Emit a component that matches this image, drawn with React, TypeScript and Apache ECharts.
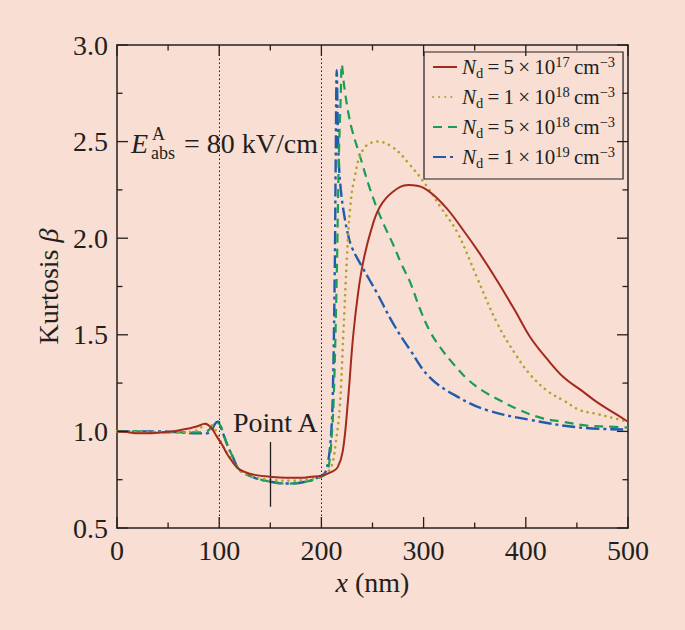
import React, { useEffect, useRef } from 'react';
import * as echarts from 'echarts';

// ---- data ----
const redX = [0, 10, 20, 30, 40, 50, 60, 70, 78, 86, 92, 98, 103, 107, 112, 118, 125, 135, 150, 165, 180, 190, 200, 210, 216, 221, 226, 231, 236, 241, 248, 257, 270, 285, 300, 320, 339, 355, 372, 390, 404, 420, 437, 455, 470, 485, 500];
const redY = [1.0, 0.997, 0.99, 0.99, 0.993, 0.998, 1.005, 1.015, 1.025, 1.04, 1.02, 0.97, 0.93, 0.89, 0.85, 0.81, 0.79, 0.775, 0.765, 0.76, 0.76, 0.765, 0.77, 0.79, 0.815, 0.9, 1.16, 1.49, 1.72, 1.88, 2.03, 2.16, 2.24, 2.275, 2.26, 2.17, 2.04, 1.92, 1.78, 1.62, 1.49, 1.38, 1.28, 1.21, 1.15, 1.1, 1.05];

const oliveX = [0, 20, 40, 60, 75, 82, 88, 93, 98, 103, 110, 120, 130, 150, 170, 190, 200, 205, 210, 214, 218, 221.5, 225, 228, 232, 241, 255, 270, 285, 303, 318, 333, 352, 372, 391, 405, 421, 437, 453, 470, 485, 500];
const oliveY = [1.0, 0.995, 0.995, 0.995, 1.0, 1.02, 1.04, 1.03, 0.99, 0.93, 0.87, 0.8, 0.77, 0.75, 0.745, 0.755, 0.77, 0.785, 0.82, 0.94, 1.13, 1.51, 1.9, 2.15, 2.3, 2.46, 2.5, 2.47, 2.39, 2.27, 2.15, 2.03, 1.8, 1.56, 1.39, 1.29, 1.21, 1.16, 1.11, 1.09, 1.07, 1.05];

const greenX = [0, 20, 40, 60, 80, 88, 92, 96, 100, 104, 108, 114, 120, 135, 150, 166, 185, 200, 205, 208, 210, 212, 215, 217, 219, 220, 222, 226, 230, 238, 246, 254, 262, 270, 278, 287, 296, 306, 317, 329, 343, 358, 375, 394, 415, 436, 460, 480, 500];
const greenY = [1.0, 1.0, 0.995, 0.995, 0.995, 1.0, 1.02, 1.045, 1.04, 0.99, 0.93, 0.86, 0.8, 0.76, 0.74, 0.73, 0.74, 0.765, 0.785, 0.85, 0.97, 1.16, 1.8, 2.4, 2.75, 2.9, 2.8, 2.66, 2.56, 2.42, 2.28, 2.16, 2.06, 1.97, 1.87, 1.77, 1.64, 1.52, 1.43, 1.35, 1.27, 1.21, 1.16, 1.11, 1.07, 1.05, 1.03, 1.025, 1.02];

const blueX = [0, 20, 40, 60, 80, 88, 92, 96, 99, 103, 108, 114, 120, 135, 150, 166, 185, 200, 204, 206.5, 209, 211, 213, 214, 215, 216, 217, 219, 222, 226, 230, 240, 254, 270, 287, 306, 333, 362, 404, 453, 500];
const blueY = [1.0, 1.0, 1.0, 0.995, 0.99, 0.99, 1.0, 1.04, 1.05, 1.0, 0.93, 0.86, 0.8, 0.76, 0.74, 0.73, 0.74, 0.77, 0.79, 0.84, 0.95, 1.16, 1.8, 2.4, 2.87, 2.6, 2.4, 2.25, 2.13, 2.02, 1.95, 1.85, 1.72, 1.56, 1.42, 1.28, 1.18, 1.11, 1.06, 1.02, 1.01];

const seriesNames = ['Nd = 5 × 10^17 cm^-3', 'Nd = 1 × 10^18 cm^-3', 'Nd = 5 × 10^18 cm^-3', 'Nd = 1 × 10^19 cm^-3'];
const legendMantissa = ['5', '1', '5', '1'];
const legendExponent = ['17', '18', '18', '19'];

const xRange = [0, 500];
const xStep = 100;
const yRange = [0.5, 3.0];
const yStep = 0.5;
const xMajorTicks = [0, 100, 200, 300, 400, 500];
const xMinorTicks = [50, 150, 250, 350, 450];
const yMajorTicks = [0.5, 1.0, 1.5, 2.0, 2.5, 3.0];
const yMinorTicks = [0.75, 1.25, 1.75, 2.25, 2.75];

const dividerX = [100, 200];
const pointAX = 150;
const pointARange = [0.61, 0.945];
const pointALabelPos = [155, 1.046];

const FONT = "'Liberation Serif', 'Times New Roman', serif";
const INK = '#231f20';
const BG = '#f8ded3';
const TS = '\u2009';
const MAJOR_LEN = 11;
const MINOR_LEN = 5.5;

const zip = (xs: number[], ys: number[]) => xs.map((x, i) => [x, ys[i]]);

export default function App() {
  const ref = useRef<HTMLDivElement>(null);

  useEffect(() => {
    const chart = echarts.init(ref.current!, null, { renderer: 'svg' });

    const baseAxis = {
      type: 'value' as const,
      axisLine: { show: true, onZero: false, lineStyle: { color: INK, width: 1.5 } },
      axisTick: { show: false },
      minorTick: { show: false },
      splitLine: { show: false },
      minorSplitLine: { show: false },
    };
    const xLimits = { min: xRange[0], max: xRange[1], interval: xStep };
    const yLimits = { min: yRange[0], max: yRange[1], interval: yStep };

    const tickStyle = { stroke: INK, lineWidth: 1.3 };

    // inward ticks on all four sides, placed through the axes' scales
    const xTickData = [
      ...xMajorTicks.map((v) => [v, yRange[0], 1]),
      ...xMinorTicks.map((v) => [v, yRange[0], 0]),
    ];
    const yTickData = [
      ...yMajorTicks.map((v) => [xRange[0], v, 1]),
      ...yMinorTicks.map((v) => [xRange[0], v, 0]),
    ];

    const option: any = {
      animation: false,
      backgroundColor: BG,
      grid: { left: 117, right: 57, top: 45, bottom: 102 },
      xAxis: [
        {
          ...baseAxis,
          ...xLimits,
          position: 'bottom',
          axisLabel: { fontFamily: FONT, fontSize: 28, color: INK, margin: 8 },
          name: '{i|x} (nm)',
          nameLocation: 'middle',
          nameGap: 37,
          nameTextStyle: {
            fontFamily: FONT,
            fontSize: 28,
            color: INK,
            rich: { i: { fontFamily: FONT, fontSize: 28, fontStyle: 'italic', color: INK } },
          },
        },
        { ...baseAxis, ...xLimits, position: 'top', axisLabel: { show: false } },
      ],
      yAxis: [
        {
          ...baseAxis,
          ...yLimits,
          position: 'left',
          axisLabel: {
            fontFamily: FONT,
            fontSize: 28,
            color: INK,
            margin: 9,
            formatter: (v: number) => v.toFixed(1),
          },
          name: 'Kurtosis {b|β}',
          nameLocation: 'middle',
          nameRotate: 90,
          nameGap: 52,
          nameTextStyle: {
            fontFamily: FONT,
            fontSize: 28,
            color: INK,
            rich: { b: { fontFamily: FONT, fontSize: 28, fontStyle: 'italic', color: INK } },
          },
        },
        { ...baseAxis, ...yLimits, position: 'right', axisLabel: { show: false } },
      ],
      legend: {
        orient: 'vertical',
        left: 424,
        top: 52,
        itemWidth: 24,
        itemHeight: 14,
        itemGap: 4,
        padding: [2, 8, 9, 8],
        borderColor: INK,
        borderWidth: 1.2,
        backgroundColor: 'transparent',
        selectedMode: false,
        itemStyle: { opacity: 0 },
        data: seriesNames,
        formatter: (name: string) => {
          const i = seriesNames.indexOf(name);
          return `{n|N}{sub|d}{t|${TS}=${TS}${legendMantissa[i]}${TS}×${TS}10}{sup|${legendExponent[i]}}{t|${TS}cm}{sup|−3}`;
        },
        textStyle: {
          fontFamily: FONT,
          fontSize: 21,
          color: INK,
          rich: {
            n: { fontFamily: FONT, fontSize: 21, fontStyle: 'italic', color: INK, lineHeight: 26 },
            t: { fontFamily: FONT, fontSize: 21, color: INK, lineHeight: 26 },
            sub: { fontFamily: FONT, fontSize: 14.5, color: INK, lineHeight: 12, verticalAlign: 'bottom' },
            sup: { fontFamily: FONT, fontSize: 14.5, color: INK, lineHeight: 14, verticalAlign: 'top' },
          },
        },
      },
      graphic: [
        {
          type: 'group',
          silent: true,
          children: [
            { type: 'text', x: 131, y: 143.5, style: { text: 'E', font: `italic 28px ${FONT}`, fill: INK, verticalAlign: 'middle' } },
            { type: 'text', x: 152, y: 134, style: { text: 'A', font: `18px ${FONT}`, fill: INK, verticalAlign: 'middle' } },
            { type: 'text', x: 151, y: 152.5, style: { text: 'abs', font: `18px ${FONT}`, fill: INK, verticalAlign: 'middle' } },
            { type: 'text', x: 184, y: 143.5, style: { text: '= 80 kV/cm', font: `28px ${FONT}`, fill: INK, verticalAlign: 'middle' } },
          ],
        },
      ],
      series: [
        {
          name: 'xTicks',
          type: 'custom',
          silent: true,
          clip: false,
          z: 10,
          data: xTickData,
          encode: { x: 0, y: 1 },
          renderItem: (params: any, api: any) => {
            const v = api.value(0);
            const len = api.value(2) ? MAJOR_LEN : MINOR_LEN;
            const b = api.coord([v, yRange[0]]);
            const t = api.coord([v, yRange[1]]);
            return {
              type: 'group',
              children: [
                { type: 'line', shape: { x1: b[0], y1: b[1], x2: b[0], y2: b[1] - len }, style: tickStyle },
                { type: 'line', shape: { x1: t[0], y1: t[1], x2: t[0], y2: t[1] + len }, style: tickStyle },
              ],
            };
          },
        },
        {
          name: 'yTicks',
          type: 'custom',
          silent: true,
          clip: false,
          z: 10,
          data: yTickData,
          encode: { x: 0, y: 1 },
          renderItem: (params: any, api: any) => {
            const v = api.value(1);
            const len = api.value(2) ? MAJOR_LEN : MINOR_LEN;
            const l = api.coord([xRange[0], v]);
            const r = api.coord([xRange[1], v]);
            return {
              type: 'group',
              children: [
                { type: 'line', shape: { x1: l[0], y1: l[1], x2: l[0] + len, y2: l[1] }, style: tickStyle },
                { type: 'line', shape: { x1: r[0], y1: r[1], x2: r[0] - len, y2: r[1] }, style: tickStyle },
              ],
            };
          },
        },
        {
          name: seriesNames[0],
          type: 'line',
          data: zip(redX, redY),
          showSymbol: false,
          symbol: 'none',
          smooth: 0.4,
          z: 5,
          lineStyle: { color: '#a52a1e', width: 2 },
          itemStyle: { color: '#a52a1e' },
          markLine: {
            silent: true,
            symbol: ['none', 'none'],
            label: { show: false },
            lineStyle: { color: INK, width: 1, type: [1.5, 2.5] },
            data: [
              ...dividerX.map((x) => ({ xAxis: x })),
              [
                { coord: [pointAX, pointARange[0]], lineStyle: { color: INK, width: 1.3, type: 'solid' } },
                { coord: [pointAX, pointARange[1]] },
              ],
            ],
          },
          markPoint: {
            silent: true,
            symbol: 'circle',
            symbolSize: 1,
            itemStyle: { color: 'rgba(0,0,0,0)' },
            label: { show: true, position: 'inside', formatter: 'Point A', fontFamily: FONT, fontSize: 28, color: INK },
            data: [{ coord: pointALabelPos }],
          },
        },
        {
          name: seriesNames[1],
          type: 'line',
          data: zip(oliveX, oliveY),
          showSymbol: false,
          symbol: 'none',
          smooth: 0.4,
          z: 4,
          lineStyle: { color: '#b0a42a', width: 2.6, type: [0.1, 6], cap: 'round' },
          itemStyle: { color: '#b0a42a' },
        },
        {
          name: seriesNames[2],
          type: 'line',
          data: zip(greenX, greenY),
          showSymbol: false,
          symbol: 'none',
          smooth: 0.4,
          z: 3,
          lineStyle: { color: '#1a9e55', width: 2.2, type: [9, 6] },
          itemStyle: { color: '#1a9e55' },
        },
        {
          name: seriesNames[3],
          type: 'line',
          data: zip(blueX, blueY),
          showSymbol: false,
          symbol: 'none',
          smooth: 0.4,
          z: 2,
          lineStyle: { color: '#1f5cae', width: 2.4, type: [13, 4, 3, 4] },
          itemStyle: { color: '#1f5cae' },
        },
      ],
    };

    chart.setOption(option);
    return () => chart.dispose();
  }, []);

  return (
    <div
      ref={ref}
      style={{ position: 'absolute', left: 0, top: 0, width: 685, height: 630, background: BG }}
    />
  );
}
